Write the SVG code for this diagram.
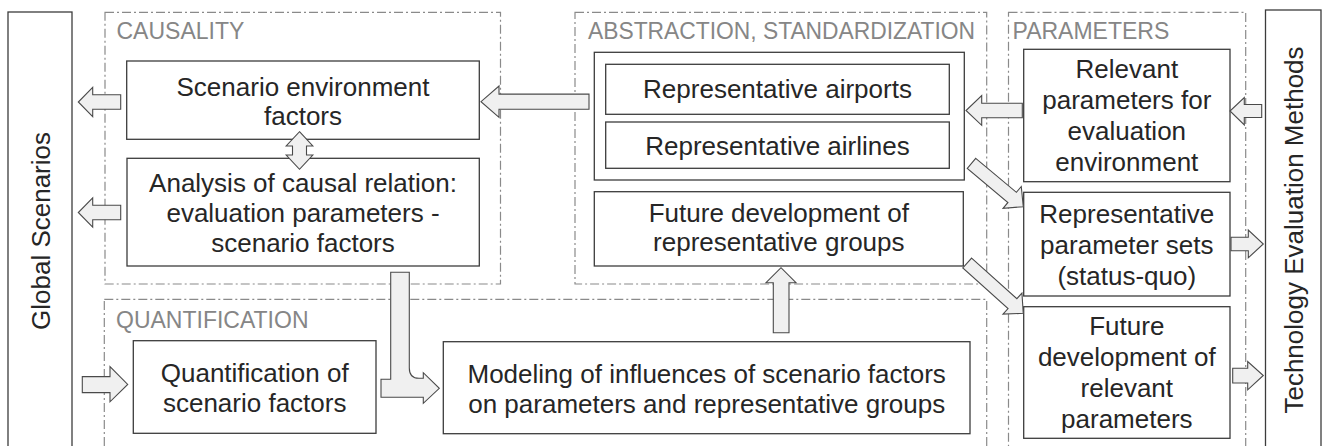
<svg xmlns="http://www.w3.org/2000/svg" width="1330" height="446" viewBox="0 0 1330 446">
<style>
.bg{fill:#ffffff}
.grp{fill:none;stroke:#8a8a8a;stroke-width:1.2;stroke-dasharray:9 3 2 3}
.lbl{font-family:"Liberation Sans",Arial,sans-serif;font-size:23px;fill:#868686}
.box{fill:#ffffff;stroke:#3c3c3c;stroke-width:1.3}
.t{font-family:"Liberation Sans",Arial,sans-serif;font-size:26px;fill:#262626;text-anchor:middle}
.arr{fill:#f0f0f0;stroke:#4a4a4a;stroke-width:1.1;stroke-linejoin:miter}
</style>
<rect class="bg" x="0" y="0" width="1330" height="446"/>

<g id="groups">
  <g id="grp-causality">
    <rect class="grp" x="105" y="12.3" width="395.5" height="271.7"/>
    <text class="lbl" x="116.5" y="39">CAUSALITY</text>
  </g>
  <g id="grp-abstraction">
    <rect class="grp" x="575" y="12.3" width="411.7" height="271.7"/>
    <text class="lbl" x="588" y="39" textLength="387" lengthAdjust="spacingAndGlyphs">ABSTRACTION, STANDARDIZATION</text>
  </g>
  <g id="grp-parameters">
    <rect class="grp" x="1008.5" y="12.3" width="237.2" height="445"/>
    <text class="lbl" x="1012.5" y="38.5">PARAMETERS</text>
  </g>
  <g id="grp-quantification">
    <rect class="grp" x="104.3" y="299.3" width="882.4" height="160"/>
    <text class="lbl" x="116" y="328">QUANTIFICATION</text>
  </g>
</g>

<g id="global-scenarios">
  <rect class="box" x="8" y="12" width="64" height="445"/>
  <text class="t" transform="translate(50,231) rotate(-90)">Global Scenarios</text>
</g>
<g id="tech-eval">
  <rect class="box" x="1265.5" y="10" width="55.5" height="447"/>
  <text class="t" transform="translate(1303,230) rotate(-90)">Technology Evaluation Methods</text>
</g>

<g id="scenario-env">
  <rect class="box" x="126.7" y="61" width="352.6" height="78.3"/>
  <text class="t" x="303" y="95.5">Scenario environment</text>
  <text class="t" x="303" y="125">factors</text>
</g>
<g id="analysis">
  <rect class="box" x="127" y="158.3" width="352.3" height="107.7"/>
  <text class="t" x="303" y="191.7">Analysis of causal relation:</text>
  <text class="t" x="303" y="221.7">evaluation parameters -</text>
  <text class="t" x="303" y="251.7">scenario factors</text>
</g>
<g id="quantification">
  <rect class="box" x="133.3" y="340.7" width="242.7" height="92.6"/>
  <text class="t" x="254.7" y="381.5">Quantification of</text>
  <text class="t" x="254.7" y="412">scenario factors</text>
</g>
<g id="modeling">
  <rect class="box" x="443.3" y="341.7" width="526.7" height="92"/>
  <text class="t" x="706.7" y="382.5">Modeling of influences of scenario factors</text>
  <text class="t" x="706.7" y="413">on parameters and representative groups</text>
</g>
<g id="representatives">
  <rect class="box" x="594.3" y="52.3" width="370" height="127.7"/>
  <g id="rep-airports">
    <rect class="box" x="605.7" y="64.3" width="343.6" height="50"/>
    <text class="t" x="777.5" y="98">Representative airports</text>
  </g>
  <g id="rep-airlines">
    <rect class="box" x="605.7" y="122" width="343.6" height="46.3"/>
    <text class="t" x="777.5" y="154.5">Representative airlines</text>
  </g>
</g>
<g id="future-rep-groups">
  <rect class="box" x="594.3" y="191.7" width="369" height="74.3"/>
  <text class="t" x="778.8" y="221.5">Future development of</text>
  <text class="t" x="778.8" y="251">representative groups</text>
</g>
<g id="relevant-params">
  <rect class="box" x="1023.7" y="49.3" width="206.3" height="132.4"/>
  <text class="t" x="1126.8" y="77.8">Relevant</text>
  <text class="t" x="1126.8" y="108.8">parameters for</text>
  <text class="t" x="1126.8" y="139.8">evaluation</text>
  <text class="t" x="1126.8" y="170.8">environment</text>
</g>
<g id="rep-param-sets">
  <rect class="box" x="1023.7" y="192.3" width="206.3" height="103.7"/>
  <text class="t" x="1126.8" y="222.5">Representative</text>
  <text class="t" x="1126.8" y="253.5">parameter sets</text>
  <text class="t" x="1126.8" y="284.5">(status-quo)</text>
</g>
<g id="future-rel-params">
  <rect class="box" x="1023.7" y="306.7" width="206.3" height="131.6"/>
  <text class="t" x="1126.8" y="334.5">Future</text>
  <text class="t" x="1126.8" y="365.8">development of</text>
  <text class="t" x="1126.8" y="397">relevant</text>
  <text class="t" x="1126.8" y="428.3">parameters</text>
</g>

<g id="connectors">
  <polygon class="arr" points="120.7,94.7 92.7,94.7 92.7,87.3 78.3,102 92.7,116.7 92.7,109.3 120.7,109.3"/>
  <polygon class="arr" points="120.7,205.2 92.7,205.2 92.7,197.8 78.3,212.5 92.7,227.2 92.7,219.8 120.7,219.8"/>
  <polygon class="arr" points="299.5,131.7 312.8,146 306.5,146 306.5,155 312.8,155 299.5,169.3 286.2,155 292.5,155 292.5,146 286.2,146"/>
  <polygon class="arr" points="589,94.1 499,94.1 499,86 481,101.7 499,117.3 499,109.3 589,109.3"/>
  <polygon class="arr" points="1022.3,103.3 981.7,103.3 981.7,95.5 966,110.5 981.7,125.3 981.7,117.7 1022.3,117.7"/>
  <polygon class="arr" points="1261.7,104.5 1244.3,104.5 1244.3,97.5 1230,111 1244.3,125 1244.3,117.5 1261.7,117.5"/>
  <polygon class="arr" points="1231,237.3 1248.3,237.3 1248.3,230 1263.3,244 1248.3,257.8 1248.3,250.7 1231,250.7"/>
  <polygon class="arr" points="1232.7,368.3 1247.7,368.3 1247.7,361.5 1263.3,375.5 1247.7,389.8 1247.7,383 1232.7,383"/>
  <polygon class="arr" points="82.3,376.6 110,376.6 110,366.7 127.7,384.4 110,401.8 110,392.6 82.3,392.6"/>
  <polygon class="arr" points="773.3,332.7 773.3,282.7 766,282.7 781,267.7 796,282.7 789,282.7 789,332.7"/>
  <path class="arr" d="M390.7,272.3 H409.3 V368 Q409.3,378.3 419,378.3 H423.3 V372.7 L439.3,388.3 L423.3,403.3 V397.3 H381 V379.3 H390.7 Z"/>
  <polygon class="arr" transform="translate(971.5,163.4) rotate(39.9)" points="0,-6.6 53,-6.6 53,-14.2 67.5,0 53,14.2 53,6.6 0,6.6"/>
  <polygon class="arr" transform="translate(967.2,263) rotate(41.9)" points="0,-6.6 60.8,-6.6 60.8,-14.2 75.3,0 60.8,14.2 60.8,6.6 0,6.6"/>
</g>
</svg>
